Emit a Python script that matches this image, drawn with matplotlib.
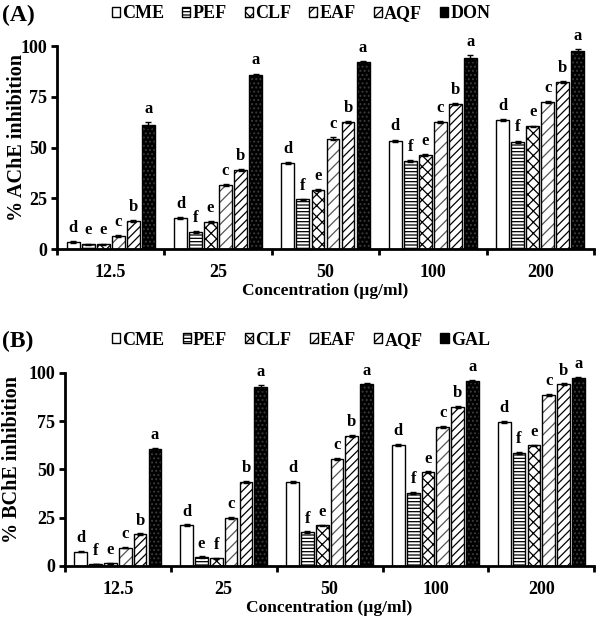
import numpy as np
import matplotlib
matplotlib.use("Agg")
import matplotlib.pyplot as plt
from matplotlib.patches import Patch

plt.rcParams['font.family'] = ['Liberation Serif', 'DejaVu Serif']
plt.rcParams['font.weight'] = 'bold'
plt.rcParams['hatch.linewidth'] = 0.9

## DATA
concs = ['12.5', '25', '50', '100', '200']
series_a = ['CME', 'PEF', 'CLF', 'EAF', 'AQF', 'DON']
series_b = ['CME', 'PEF', 'CLF', 'EAF', 'AQF', 'GAL']

ache = {
    'CME': [3.5, 15.5, 42.5, 53.5, 63.5],
    'PEF': [2.5, 8.5, 24.5, 43.5, 53.0],
    'CLF': [2.5, 13.5, 29.0, 46.5, 60.5],
    'EAF': [6.5, 31.5, 54.5, 62.5, 72.5],
    'AQF': [14.0, 39.0, 62.5, 71.5, 82.5],
    'DON': [61.0, 86.0, 92.0, 94.0, 97.5],
}
ache_err = {
    'CME': [0.5, 0.5, 0.5, 0.5, 0.4],
    'PEF': [0.3, 0.5, 0.4, 0.5, 0.5],
    'CLF': [0.3, 0.5, 0.4, 0.5, 0.4],
    'EAF': [0.3, 0.5, 0.5, 0.5, 0.5],
    'AQF': [0.5, 0.5, 0.5, 0.5, 0.5],
    'DON': [1.5, 0.5, 0.5, 1.5, 1.0],
}
ache_let = {
    'CME': ['d', 'd', 'd', 'd', 'd'],
    'PEF': ['e', 'f', 'f', 'f', 'f'],
    'CLF': ['e', 'e', 'e', 'e', 'e'],
    'EAF': ['c', 'c', 'c', 'c', 'c'],
    'AQF': ['b', 'b', 'b', 'b', 'b'],
    'DON': ['a', 'a', 'a', 'a', 'a'],
}

bche = {
    'CME': [7.5, 21.0, 43.5, 62.5, 74.5],
    'PEF': [1.0, 4.5, 17.5, 38.0, 58.5],
    'CLF': [1.5, 4.0, 21.0, 48.5, 62.5],
    'EAF': [9.5, 25.0, 55.5, 72.0, 88.5],
    'AQF': [16.5, 43.5, 67.5, 82.5, 94.0],
    'GAL': [60.5, 92.5, 94.0, 96.0, 97.5],
}
bche_err = {
    'CME': [0.4, 0.5, 0.5, 0.5, 0.5],
    'PEF': [0.2, 0.5, 0.4, 0.5, 0.4],
    'CLF': [0.3, 0.3, 0.4, 0.5, 0.4],
    'EAF': [0.3, 0.5, 0.5, 0.5, 0.5],
    'AQF': [0.4, 0.5, 0.5, 0.5, 0.5],
    'GAL': [0.5, 1.2, 0.5, 0.5, 0.5],
}
bche_let = {
    'CME': ['d', 'd', 'd', 'd', 'd'],
    'PEF': ['f', 'e', 'f', 'f', 'f'],
    'CLF': ['e', 'f', 'e', 'e', 'e'],
    'EAF': ['c', 'c', 'c', 'c', 'c'],
    'AQF': ['b', 'b', 'b', 'b', 'b'],
    'GAL': ['a', 'a', 'a', 'a', 'a'],
}

# styles: (face, hatch, hatch colour)
styles = [
    ('white', '', 'black'),
    ('white', '-----', 'black'),
    ('white', 'xxx', 'black'),
    ('white', '///', '#555555'),
    ('white', '////', 'black'),
    ('black', '....', '#3c3c3c'),
]

fig = plt.figure(figsize=(5.96, 6.23), dpi=100)
axA = fig.add_axes([0.0956, 0.600, 0.901, 0.326])
axB = fig.add_axes([0.109, 0.0915, 0.888, 0.310])


def draw_panel(ax, names, vals, errs, lets, ylabel, ylab_x):
    pitch = 0.14
    width = 0.12
    x = np.arange(len(concs))
    for i, name in enumerate(names):
        face, hatch, hcol = styles[i]
        xs = x + (i - 2.5) * pitch
        ax.bar(xs, vals[name], width, color=face, hatch=hatch,
               edgecolor=hcol, linewidth=0, zorder=2)
        ax.bar(xs, vals[name], width, fill=False, edgecolor='black',
               linewidth=1.0, zorder=3)
        ax.errorbar(xs, vals[name], yerr=errs[name], fmt='none', ecolor='black',
                    elinewidth=1.0, capsize=2.5, capthick=1.0, zorder=4)
        for xx, v, e, l in zip(xs, vals[name], errs[name], lets[name]):
            ax.text(xx, v + e + 2.5, l, ha='center', va='bottom',
                    fontsize=12, fontweight='bold')
    ax.set_xlim(-0.5, len(concs) - 0.5)
    ax.set_ylim(0, 100)
    ax.set_yticks([0, 25, 50, 75, 100])
    ax.set_xticks(np.arange(len(concs) + 1) - 0.5)
    ax.set_xticklabels([])
    ax.set_xticks(x, minor=True)
    ax.set_xticklabels(concs, minor=True)
    ax.tick_params(axis='x', which='minor', length=0, pad=11, labelsize=13)
    ax.tick_params(axis='x', which='major', length=4, width=2, direction='out')
    ax.tick_params(axis='y', length=4, width=2, labelsize=13, pad=3)
    for lab in ax.get_yticklabels() + ax.get_xticklabels(minor=True):
        lab.set_fontweight('bold')
    ax.spines['top'].set_visible(False)
    ax.spines['right'].set_visible(False)
    ax.spines['left'].set_linewidth(2)
    ax.spines['bottom'].set_linewidth(2)
    ax.set_ylabel(ylabel, fontsize=14.5, fontweight='bold')
    ax.yaxis.set_label_coords(ylab_x, 0.55)
    ax.set_xlabel('Concentration (µg/ml)', fontsize=12.5, fontweight='bold', labelpad=1)
    handles = []
    for i, name in enumerate(names):
        face, hatch, hcol = styles[i]
        if face == 'black':
            handles.append(Patch(facecolor='black', edgecolor='black', label=name))
        else:
            handles.append(Patch(facecolor='white', edgecolor='black', hatch=hatch, label=name))
    return handles


hA = draw_panel(axA, series_a, ache, ache_err, ache_let, '% AChE inhibition', -0.056)
hB = draw_panel(axB, series_b, bche, bche_err, bche_let, '% BChE inhibition', -0.081)

leg_kw = dict(loc='center', ncol=6, frameon=False, handlelength=0.45, handleheight=0.45,
              handletextpad=0.12, columnspacing=1.0, prop={'weight': 'bold', 'size': 13})
fig.legend(handles=hA, bbox_to_anchor=(0.505, 0.978), **leg_kw)
fig.legend(handles=hB, bbox_to_anchor=(0.505, 0.454), **leg_kw)

fig.text(0.003, 0.975, '(A)', fontsize=17, fontweight='bold', va='center')
fig.text(0.003, 0.452, '(B)', fontsize=17, fontweight='bold', va='center')

fig.savefig('out.png', dpi=100)
